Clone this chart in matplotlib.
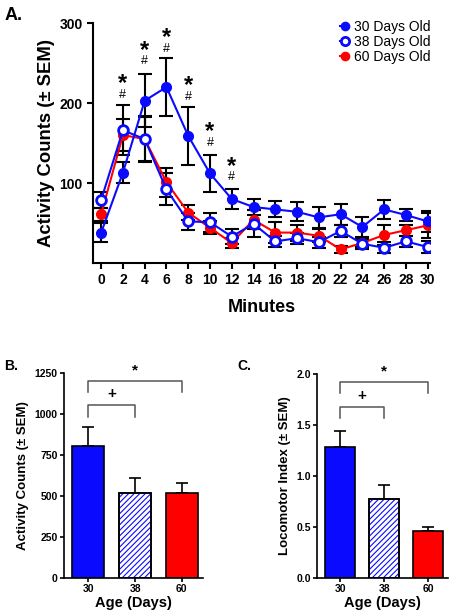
import matplotlib.pyplot as plt
import numpy as np

plt.rcParams['font.family'] = ['Liberation Sans', 'DejaVu Sans']
plt.rcParams['hatch.linewidth'] = 0.8

minutes = [0, 2, 4, 6, 8, 10, 12, 14, 16, 18, 20, 22, 24, 26, 28, 30]
d30 = [38, 113, 203, 220, 159, 112, 80, 70, 67, 64, 57, 61, 45, 67, 60, 52]
d30_err = [12, 13, 33, 36, 36, 23, 13, 10, 10, 12, 13, 13, 12, 12, 7, 13]
d38 = [79, 166, 155, 92, 52, 51, 33, 49, 27, 31, 26, 40, 24, 19, 27, 20]
d38_err = [10, 31, 29, 20, 11, 12, 9, 17, 7, 7, 7, 7, 7, 7, 7, 7]
d60 = [61, 160, 155, 101, 63, 44, 25, 54, 38, 38, 34, 17, 25, 35, 41, 47]
d60_err = [8, 20, 27, 18, 9, 8, 6, 12, 13, 10, 8, 4, 5, 13, 7, 16]
sig_minutes = [2, 4, 6, 8, 10, 12]
sig_heights = [210, 252, 268, 208, 150, 107]

ages = ['30', '38', '60']
counts = [805, 515, 520]
counts_err = [115, 95, 60]
loco = [1.28, 0.77, 0.46]
loco_err = [0.16, 0.14, 0.04]

blue = '#0a0aff'
red = '#ff0000'

fig = plt.figure(figsize=(4.57, 6.15), dpi=100)

# panel A
ax = fig.add_axes([0.2035, 0.5724, 0.737, 0.390])
for ys, es in [(d60, d60_err), (d38, d38_err), (d30, d30_err)]:
    ax.errorbar(minutes, ys, yerr=es, fmt='none', ecolor='black', elinewidth=1.5,
                capsize=5, capthick=1.5, zorder=1)
ax.plot(minutes, d60, '-o', color=red, lw=1.5, ms=7, zorder=2, label='60 Days Old')
ax.plot(minutes, d38, '-o', color=blue, mfc='white', mec=blue, mew=2, lw=1.5, ms=7, zorder=3, label='38 Days Old')
ax.plot(minutes, d30, '-o', color=blue, lw=1.5, ms=7, zorder=4, label='30 Days Old')

for m, hy in zip(sig_minutes, sig_heights):
    ax.text(m, hy, '#', ha='center', va='center', fontsize=9)
    ax.text(m, hy + 14, '*', ha='center', va='center', fontsize=17, fontweight='bold')

ax.set_xlim(-0.75, 30.2)
ax.set_ylim(0, 300)
ax.set_xticks(minutes)
ax.set_yticks([100, 200, 300])
ax.spines['top'].set_visible(False)
ax.spines['right'].set_visible(False)
for s in ['left', 'bottom']:
    ax.spines[s].set_linewidth(1.5)
ax.tick_params(width=1.5, length=4, labelsize=10)
for lab in ax.get_xticklabels() + ax.get_yticklabels():
    lab.set_fontweight('bold')
ax.set_xlabel('Minutes', fontsize=13, fontweight='bold', labelpad=8)
ax.set_ylabel('Activity Counts (± SEM)', fontsize=13.3, fontweight='bold', labelpad=3)
h, l = ax.get_legend_handles_labels()
ax.legend(h[::-1], l[::-1], loc='upper right', bbox_to_anchor=(1.04, 1.065), frameon=False,
          fontsize=10, handlelength=0.6, handletextpad=0.4, labelspacing=0.08, markerscale=0.85)
fig.text(0.01, 0.975, 'A.', fontsize=13, fontweight='bold', va='center')


def bar_panel(rect, vals, errs, ylim, yticks, yticklabels, ylabel, brackets, label, lx):
    bx = fig.add_axes(rect)
    x = np.arange(len(vals))
    colors = [blue, 'white', red]
    bx.bar(x, vals, width=0.68, color=colors, edgecolor='black', linewidth=1.2, zorder=2)
    bx.bar(x[1], vals[1], width=0.68, color='none', edgecolor=blue, hatch='//////', linewidth=0, zorder=2)
    bx.bar(x[1], vals[1], width=0.68, color='none', edgecolor='black', linewidth=1.2, zorder=3)
    bx.errorbar(x, vals, yerr=[np.zeros(len(vals)), errs], fmt='none', ecolor='black',
                elinewidth=1.2, capsize=4, capthick=1.2, zorder=1)
    for (x0, x1, yt, yb, sym) in brackets:
        bx.plot([x0, x0, x1, x1], [yb, yt, yt, yb], color='#555555', lw=1.1, clip_on=False)
        bx.text((x0 + x1) / 2, yt + (ylim[1] * 0.02), sym, ha='center', va='bottom',
                fontsize=11, fontweight='bold')
    bx.set_xlim(-0.52, 2.45)
    bx.set_ylim(*ylim)
    bx.set_xticks(x)
    bx.set_xticklabels(ages)
    bx.set_yticks(yticks)
    bx.set_yticklabels(yticklabels)
    bx.spines['top'].set_visible(False)
    bx.spines['right'].set_visible(False)
    for s in ['left', 'bottom']:
        bx.spines[s].set_linewidth(1.2)
    bx.tick_params(width=1.2, length=3, labelsize=7.5, pad=1.5)
    for lab in bx.get_xticklabels() + bx.get_yticklabels():
        lab.set_fontweight('bold')
    bx.set_xlabel('Age (Days)', fontsize=10.5, fontweight='bold', labelpad=1)
    bx.set_ylabel(ylabel, fontsize=9.5, fontweight='bold', labelpad=4)
    fig.text(lx, 0.405, label, fontsize=10, fontweight='bold', va='center')
    return bx


bar_panel([0.140, 0.0600, 0.304, 0.334], counts, counts_err, (0, 1250),
          [0, 250, 500, 750, 1000, 1250], ['0', '250', '500', '750', '1000', '1250'],
          'Activity Counts (± SEM)',
          [(0, 1, 1053, 980, '+'), (0, 2, 1198, 1132, '*')], 'B.', 0.01)
bar_panel([0.694, 0.0600, 0.287, 0.332], loco, loco_err, (0, 2.0),
          [0, 0.5, 1.0, 1.5, 2.0], ['0.0', '0.5', '1.0', '1.5', '2.0'],
          'Locomotor Index (± SEM)',
          [(0, 1, 1.68, 1.57, '+'), (0, 2, 1.92, 1.81, '*')], 'C.', 0.52)

fig.savefig('out.png', dpi=100)
